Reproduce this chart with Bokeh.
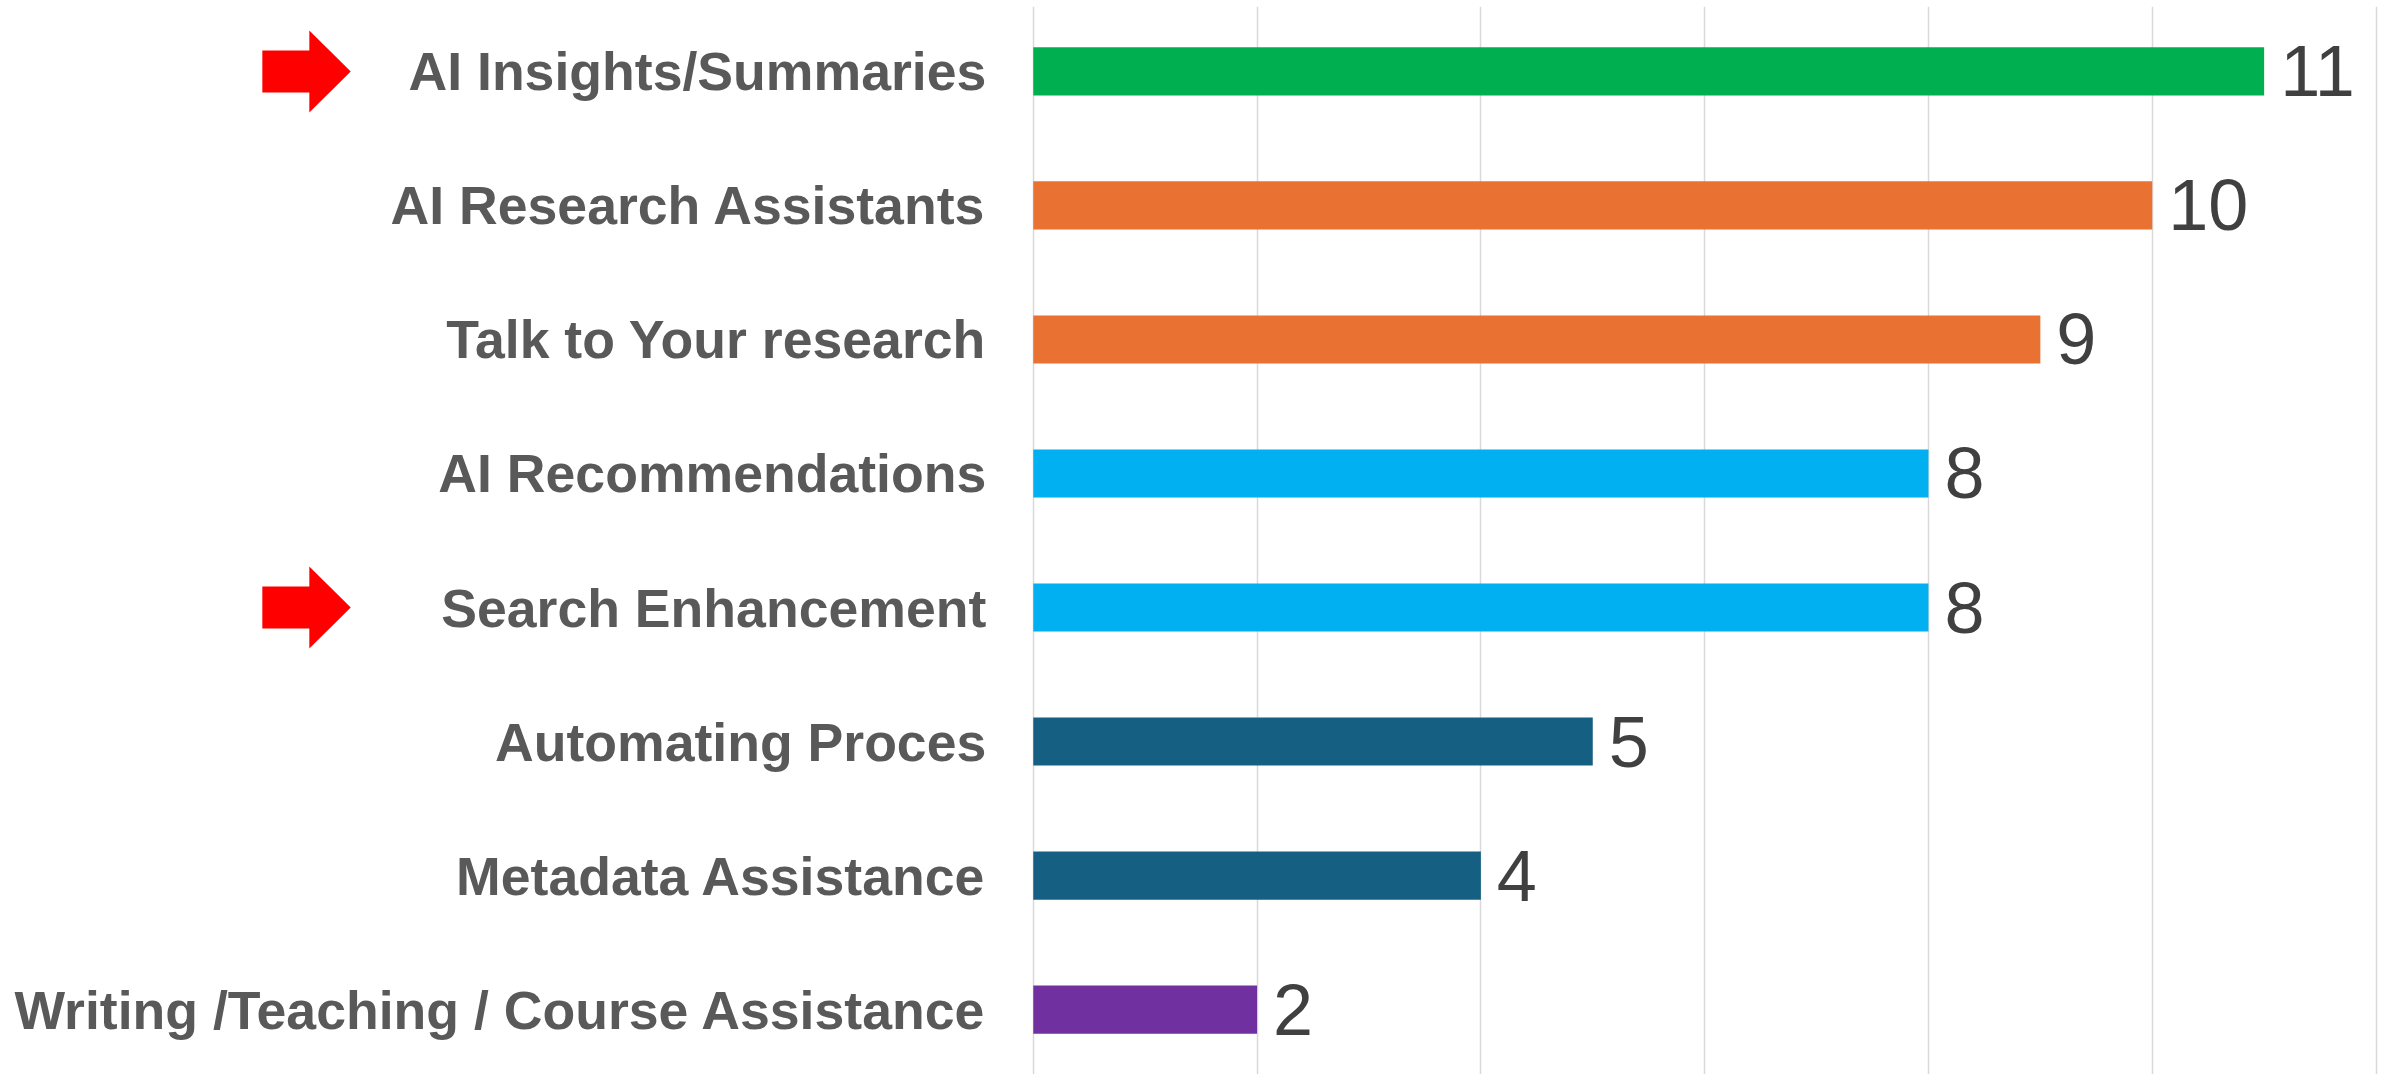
from bokeh.plotting import figure
from bokeh.models import ColumnDataSource, FactorRange, Range1d, Grid, FixedTicker
from bokeh.core.properties import value
from bokeh.embed import file_html
from bokeh.resources import INLINE

# ---- data ----
categories = [
    "AI Insights/Summaries",
    "AI Research Assistants",
    "Talk to Your research",
    "AI Recommendations",
    "Search Enhancement",
    "Automating Proces",
    "Metadata Assistance",
    "Writing /Teaching / Course Assistance",
]
values = [11, 10, 9, 8, 8, 5, 4, 2]
bar_colors = ["#00B050", "#E97132", "#E97132", "#00B0F0", "#00B0F0",
              "#156082", "#156082", "#7030A0"]
highlighted = ["AI Insights/Summaries", "Search Enhancement"]
grid_ticks = [0, 2, 4, 6, 8, 10, 12]
value_labels = [str(v) for v in values]

# ---- figure ----
y_factors = list(reversed(categories))
p = figure(
    width=2380, height=1074,
    x_range=Range1d(-9.23, 12.04),
    y_range=FactorRange(*y_factors, range_padding=-0.015, range_padding_units="absolute"),
    x_axis_location=None, y_axis_location=None,
    output_backend="svg", toolbar_location=None,
    min_border=0, min_border_top=6, outline_line_color=None,
    background_fill_color="white", border_fill_color="white",
)
p.grid.visible = False

p.add_layout(Grid(dimension=0, ticker=FixedTicker(ticks=grid_ticks), bounds=(0, 12),
                  grid_line_color="#D9D9D9", grid_line_width=1.5))

src = ColumnDataSource(dict(cat=categories, val=values, color=bar_colors,
                            lab=value_labels))

p.hbar(y="cat", left=0, right="val", height=0.36, color="color",
       line_color=None, source=src)

# value labels
p.text(x="val", y="cat", text="lab", source=src, x_offset=16,
       text_font=value("Liberation Sans"), text_font_size="72px",
       text_color="#404040", text_align="left", text_baseline="middle")

# category labels
p.text(x=-0.42, y="cat", text="cat", source=src,
       text_font=value("Liberation Sans"), text_font_style="bold",
       text_font_size="53.6px", text_color="#595959",
       text_align="right", text_baseline="middle")

# red block arrows pointing at highlighted categories
shaft_x0, head_x0, tip_x = -6.89, -6.47, -6.10
shaft_h, head_h = 0.157, 0.306
xs, ys = [], []
for c in highlighted:
    xs.append([shaft_x0, head_x0, head_x0, tip_x, head_x0, head_x0, shaft_x0])
    ys.append([(c, shaft_h), (c, shaft_h), (c, head_h), (c, 0.0),
               (c, -head_h), (c, -shaft_h), (c, -shaft_h)])
p.patches(xs=xs, ys=ys, fill_color="#FF0000", line_color=None)

open("out.html", "w").write(file_html(p, INLINE))
